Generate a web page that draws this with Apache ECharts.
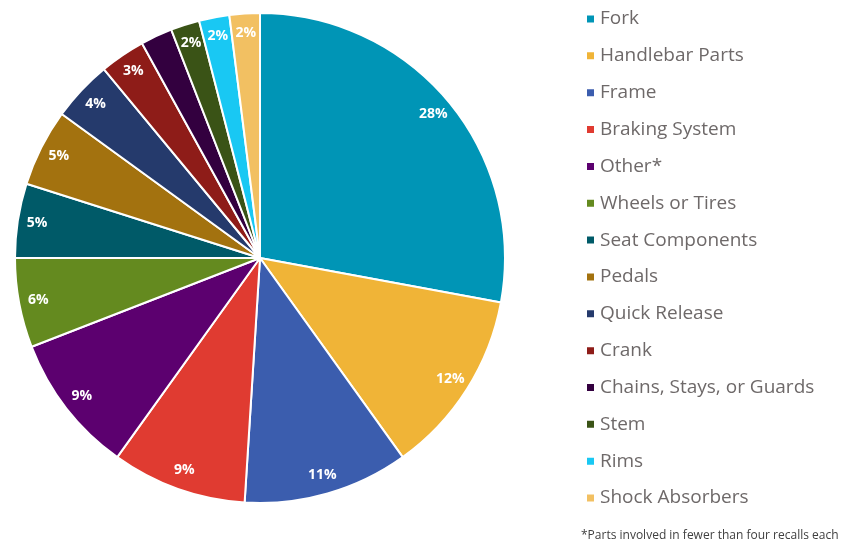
<!DOCTYPE html>
<html>
<head>
<meta charset="utf-8">
<script src="https://cdn.jsdelivr.net/npm/echarts@6/dist/echarts.min.js"></script>
<style>
    html, body { margin: 0; padding: 0; background: #fff; }
    #chart { width: 866px; height: 544px; }
</style>
</head>
<body>
<div id="chart"></div>
<script>
; (function () {

    /* =================== recall share by part ======================== */

    var parts = ['Fork', 'Handlebar Parts', 'Frame', 'Braking System', 'Other*',
        'Wheels or Tires', 'Seat Components', 'Pedals', 'Quick Release', 'Crank',
        'Chains, Stays, or Guards', 'Stem', 'Rims', 'Shock Absorbers'];
    var shares = [27.9, 12.2, 10.9, 8.9, 9.2, 5.9, 4.9, 5.1, 4.0, 3.0, 2.1, 1.9, 2.0, 2.0];
    var colors = ['#0095b6', '#f0b437', '#3b5dae', '#e03b31', '#5c006f', '#648a1f',
        '#005a68', '#a3720f', '#253a6c', '#8e1c18', '#33003f', '#3a5316', '#19c8f3', '#f2c062'];
    var hideLabel = ['Chains, Stays, or Guards'];

    var font = '"Open Sans", Lato, sans-serif';

    var myChart = echarts.init(document.getElementById('chart'));

    var pieData = parts.map(function (name, i) {
        return { name: name, value: shares[i], itemStyle: { color: colors[i] } };
    });

    // second, see-through ring only carries the labels so they sit near the rim
    var labelData = parts.map(function (name, i) {
        return {
            name: name,
            value: shares[i],
            label: { show: hideLabel.indexOf(name) < 0 }
        };
    });

    var option = {
        animation: false,
        color: colors,
        title: {
            text: '*Parts involved in fewer than four recalls each',
            left: 576,
            top: 525,
            textStyle: { fontFamily: font, fontSize: 12, fontWeight: 'normal', color: '#404040' }
        },
        legend: {
            orient: 'vertical',
            left: 580,
            top: 4,
            icon: 'rect',
            itemWidth: 9,
            itemHeight: 9,
            itemGap: 16.85,
            data: parts,
            textStyle: { fontFamily: font, fontSize: 19, color: '#6e6969', lineHeight: 20 }
        },
        series: [
            {
                name: 'Recalls',
                type: 'pie',
                center: [260, 258],
                radius: [0, 245],
                startAngle: 90,
                clockwise: true,
                silent: true,
                itemStyle: { borderColor: '#fff', borderWidth: 2 },
                label: { show: false },
                labelLine: { show: false },
                data: pieData
            },
            {
                name: 'Labels',
                type: 'pie',
                center: [260, 258],
                radius: [200, 245],
                startAngle: 90,
                clockwise: true,
                silent: true,
                legendHoverLink: false,
                itemStyle: { color: 'rgba(0,0,0,0)', borderWidth: 0 },
                label: {
                    position: 'inside',
                    color: '#fff',
                    fontFamily: font,
                    fontSize: 14,
                    fontWeight: 'bold',
                    formatter: function (p) { return Math.round(p.value) + '%'; }
                },
                labelLine: { show: false },
                data: labelData
            }
        ]
    };

    myChart.setOption(option);
}());
</script>
</body>
</html>
